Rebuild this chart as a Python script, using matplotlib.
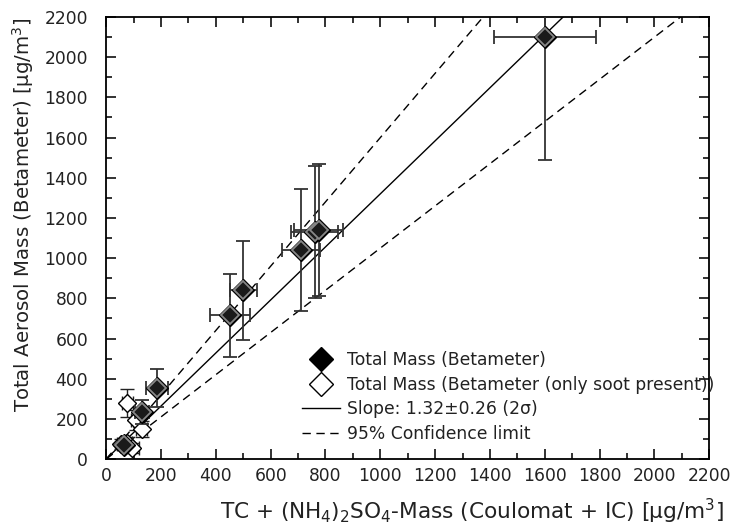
import numpy as np
import matplotlib.pyplot as plt
from matplotlib.lines import Line2D
from matplotlib.ticker import MultipleLocator

plt.rcParams['font.family'] = ['DejaVu Sans']
plt.rcParams['mathtext.default'] = 'regular'

# Total mass (Betameter)
filled_x = [1600, 760, 775, 710, 500, 450, 186, 131, 65]
filled_y = [2100, 1130, 1140, 1040, 840, 715, 353, 234, 70]
filled_xerr = [185, 85, 90, 70, 50, 73, 40, 25, 15]
filled_yerr = [610, 328, 330, 305, 245, 207, 95, 60, 20]

# Total mass (Betameter, only soot present)
open_x = [77, 110, 130, 55, 75, 95]
open_y = [279, 195, 150, 75, 80, 55]
open_xerr = [20, 20, 20, 15, 20, 25]
open_yerr = [70, 50, 40, 25, 30, 25]

slope = 1.32
slope_hi = 1.60
slope_lo = 1.05

fig = plt.figure(figsize=(7.32, 5.32), dpi=100)
ax = fig.add_axes([0.145, 0.137, 0.824, 0.831])

xs = np.array([0, 2200])
ax.plot(xs, slope * xs, color='black', lw=1.0, zorder=1)
ax.plot(xs, slope_hi * xs, color='black', lw=1.0, ls=(0, (6, 4)), zorder=1)
ax.plot(xs, slope_lo * xs, color='black', lw=1.0, ls=(0, (6, 4)), zorder=1)

ax.errorbar(open_x, open_y, xerr=open_xerr, yerr=open_yerr, fmt='none',
            ecolor='#222222', elinewidth=1.0, capsize=5, capthick=1.0, zorder=2)
ax.plot(open_x, open_y, 'D', ms=9.5, mfc='white', mec='black', mew=1.0, zorder=3)

ax.errorbar(filled_x, filled_y, xerr=filled_xerr, yerr=filled_yerr, fmt='none',
            ecolor='#333333', elinewidth=1.3, capsize=5, capthick=1.3, zorder=4)
ax.plot(filled_x, filled_y, 'D', ms=11.5, mfc='black', mec='black', mew=1.0, zorder=5)
ax.plot(filled_x, filled_y, 'D', ms=9.5, mfc='#1a1a1a', mec='#888888', mew=1.3, zorder=6)

ax.set_xlim(0, 2200)
ax.set_ylim(0, 2200)
ax.xaxis.set_major_locator(MultipleLocator(200))
ax.yaxis.set_major_locator(MultipleLocator(200))
ax.xaxis.set_minor_locator(MultipleLocator(100))
ax.yaxis.set_minor_locator(MultipleLocator(100))
ax.tick_params(which='both', direction='in', top=True, right=True,
               labelsize=12.3, width=1.3, colors='#222222')
ax.tick_params(which='major', length=7)
ax.tick_params(axis='x', which='major', pad=6)
ax.tick_params(axis='y', which='major', pad=13)
ax.tick_params(which='minor', length=4)
for s in ax.spines.values():
    s.set_linewidth(1.3)

ax.set_xlabel('TC + (NH$_4$)$_2$SO$_4$-Mass (Coulomat + IC) [µg/m$^3$]',
              fontsize=15.6, labelpad=8, color='#222222', x=0.607)
ax.set_ylabel('Total Aerosol Mass (Betameter) [µg/m$^3$]', fontsize=14.2,
              labelpad=6, color='#222222', y=0.552)

handles = [
    Line2D([], [], ls='none', marker='D', ms=12, mfc='black', mec='black'),
    Line2D([], [], ls='none', marker='D', ms=12, mfc='white', mec='black'),
    Line2D([], [], color='black', lw=1.0),
    Line2D([], [], color='black', lw=1.0, ls=(0, (6, 4))),
]
labels = ['Total Mass (Betameter)',
          'Total Mass (Betameter (only soot present))',
          'Slope: 1.32±0.26 (2σ)',
          '95% Confidence limit']
leg = ax.legend(handles, labels, loc='upper left', bbox_to_anchor=(0.325, 0.245),
                frameon=False, fontsize=12.3, borderpad=0, handlelength=2.2,
                handletextpad=0.45, labelspacing=0.4, borderaxespad=0)
for t in leg.get_texts():
    t.set_color('#222222')

fig.savefig('out.png', dpi=100)
